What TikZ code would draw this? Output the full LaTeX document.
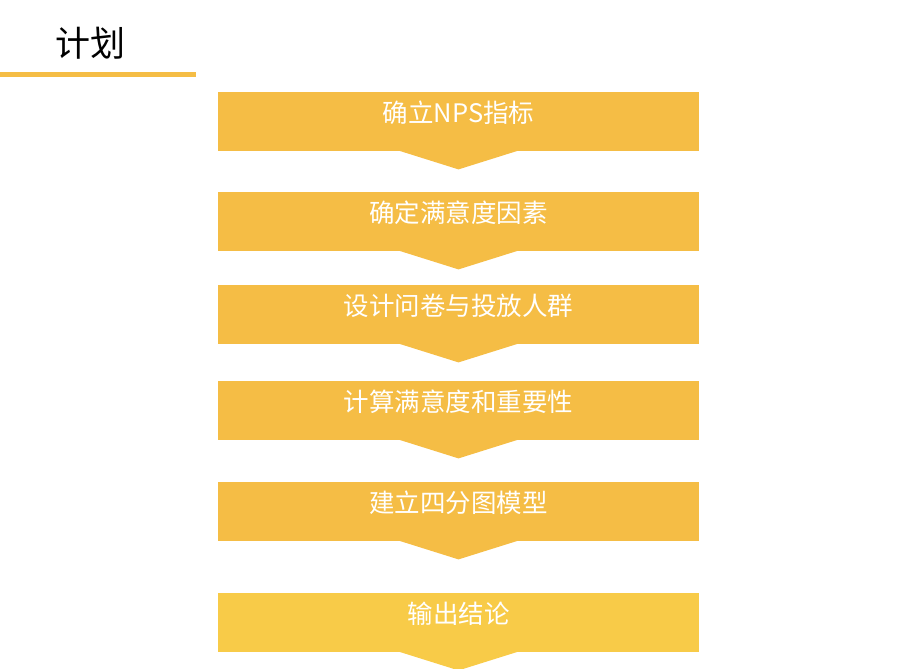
\documentclass[tikz,border=0pt]{standalone}
\usepackage{fontspec}
\setmainfont{Noto Sans CJK SC}
\definecolor{planorange}{RGB}{245,189,69}
\definecolor{planyellow}{RGB}{248,203,72}
\tikzset{
  box/.style={fill=planorange,minimum width=481pt,minimum height=59pt,inner sep=0pt,anchor=north},
  boxtext/.style={text=white,font=\fontsize{25.5}{25.5}\selectfont,anchor=center}
}
\begin{document}
\begin{tikzpicture}[x=1pt,y=-1pt]
\useasboundingbox (0,0) rectangle (919,669);
\def\tipx{60.5} \def\tipy{-18}
% title
\node[font=\fontsize{35}{35}\selectfont,anchor=center] (title) at (90,43) {计划};
\draw[planorange,line width=4.5pt] (0,74.5) -- (196,74.5);
% steps
\foreach \i/\top/\txt in {1/92/确立NPS指标,2/192/确定满意度因素,3/285/设计问卷与投放人群,4/381/计算满意度和重要性,5/482/建立四分图模型}{
  \node[box] (s\i) at (458.5,\top) {};
  \fill[planorange] ([xshift=-\tipx,yshift=1]s\i.south) -- ([xshift=\tipx,yshift=1]s\i.south) -- ([yshift=\tipy]s\i.south) -- cycle;
  \node[boxtext] (t\i) at ([yshift=-20.5]s\i.north) {\txt};
}
\node[box,fill=planyellow] (s6) at (458.5,593) {};
\fill[planyellow] ([xshift=-\tipx,yshift=1]s6.south) -- ([xshift=\tipx,yshift=1]s6.south) -- ([yshift=\tipy]s6.south) -- cycle;
\node[boxtext] (t6) at ([yshift=-20.5]s6.north) {输出结论};
\end{tikzpicture}
\end{document}
